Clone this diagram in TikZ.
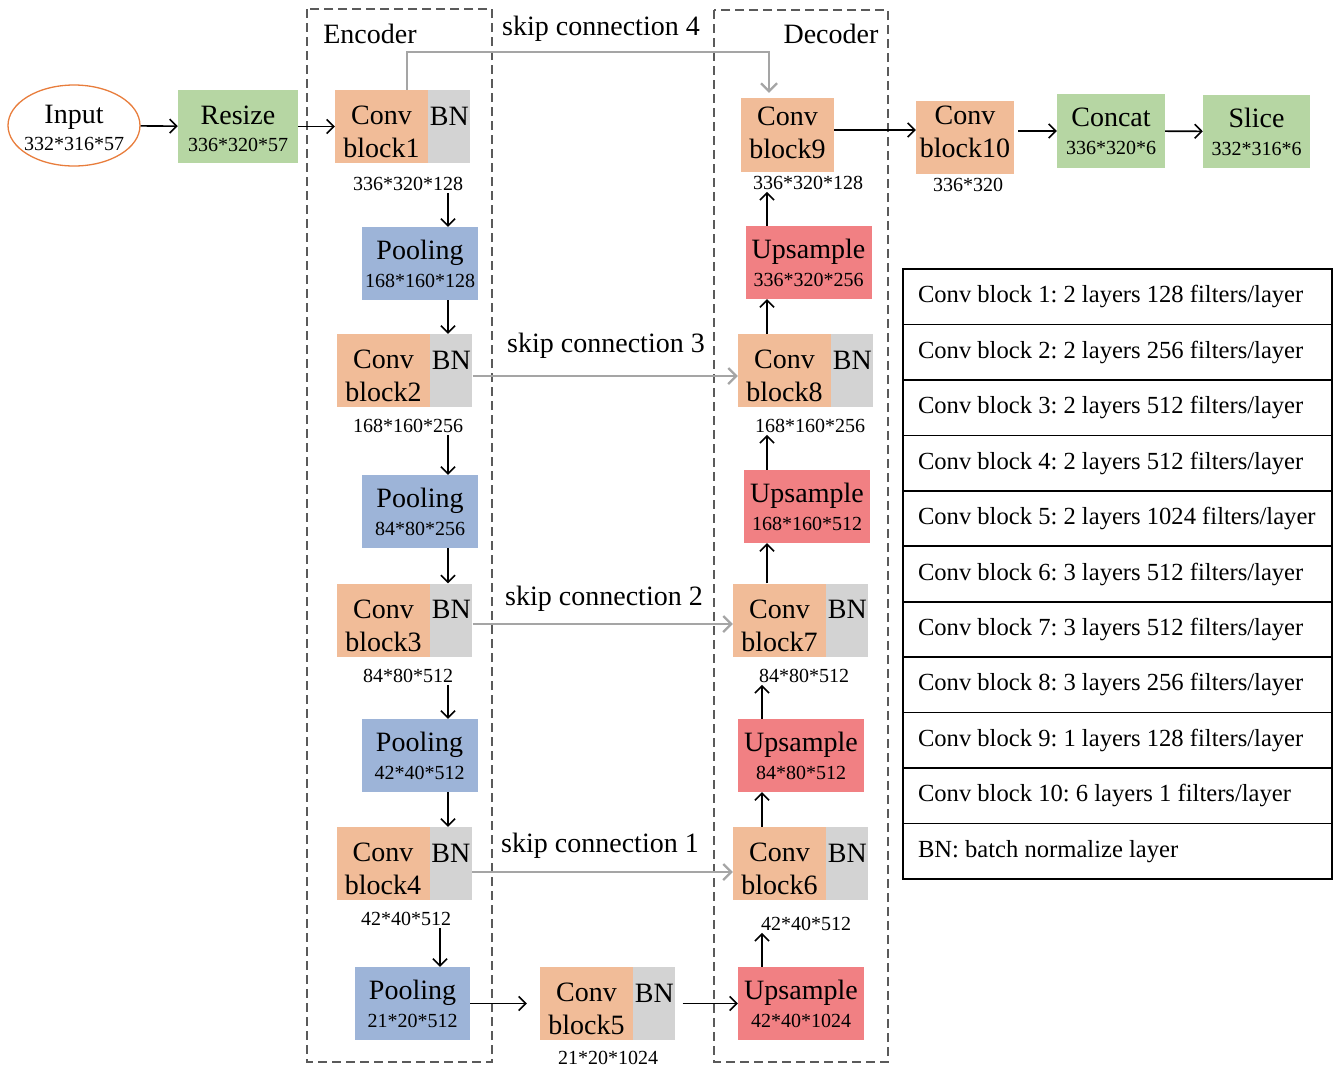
\documentclass[tikz,border=0pt]{standalone}
\usepackage{fontspec}
\setmainfont{Liberation Serif}
\usetikzlibrary{positioning,shapes.geometric,matrix,arrows.meta}
\definecolor{convc}{RGB}{241,188,152}
\definecolor{bnc}{RGB}{211,211,211}
\definecolor{poolc}{RGB}{157,180,216}
\definecolor{upc}{RGB}{241,128,131}
\definecolor{grc}{RGB}{182,214,163}
\definecolor{inc}{RGB}{232,125,60}
\definecolor{skipc}{RGB}{165,165,165}
\definecolor{framec}{RGB}{90,90,90}
\newcommand\sm{\fontsize{20}{24}\selectfont}
\newcommand\tp{\rule{0pt}{30pt}}

\begin{document}
\begin{tikzpicture}[x=1pt,y=-1pt,font=\fontsize{28}{33}\selectfont,
box/.style={inner sep=0pt, align=center, minimum height=73pt},
conv/.style={box, fill=convc, minimum width=93pt},
bn/.style={box, fill=bnc, minimum width=42pt},
pool/.style={box, fill=poolc, minimum width=116pt},
upsm/.style={box, fill=upc, minimum width=126pt},
reshape/.style={box, fill=grc},
dimtext/.style={font=\sm, inner sep=2pt},
flow/.style={-{Straight Barb[length=7pt,width=14pt]}, line width=1.6pt},
skipline/.style={-{Straight Barb[length=8pt,width=16pt]}, line width=2.2pt, skipc},
stage/.style={dash pattern=on 9pt off 5pt, line width=1.4pt, framec},
filters/.style={matrix of nodes, row sep=-1.6pt,
  nodes={draw, line width=1.6pt, minimum height=55.45pt, text width=399pt, inner xsep=15pt,
    inner ysep=0pt, align=flush left, anchor=center, font=\fontsize{24.6}{28}\selectfont\frenchspacing}}]
\useasboundingbox (0,0) rectangle (1336,1069);

% encoder / decoder frames
\draw[stage] (307,9) rectangle (492,1062);
\draw[stage] (714,10) rectangle (888,1062);
\node (enc) at (370,34) {Encoder};
\node (dec) at (831,34) {Decoder};

% input side
\node[ellipse, draw=inc, line width=1.3pt, minimum width=132pt, minimum height=81pt, inner xsep=-10pt, inner ysep=0pt, align=center] (in) at (74,125.5) {\rule{0pt}{24pt}Input\\[-6pt]\sm 332*316*57};
\node[reshape, minimum width=120pt] (rs) at (238,126.5) {\rule{0pt}{24pt}Resize\\[-6pt]\sm 336*320*57};

% encoder
\node[conv] (c1) at (381.5,126.5) {\tp Conv\\block1};
\node[bn, right=0pt of c1] (b1) {\tp BN\\\mbox{}};
\node[dimtext] (l1) at (408,184) {336*320*128};
\node[pool] (p1) at (420,263.5) {Pooling\\[-5pt]\sm 168*160*128};
\node[conv] (c2) at (383.5,370.5) {\tp Conv\\block2};
\node[bn, right=0pt of c2] (b2) {\tp BN\\\mbox{}};
\node[dimtext] (l2) at (408,426) {168*160*256};
\node[pool] (p2) at (420,511.5) {Pooling\\[-5pt]\sm 84*80*256};
\node[conv] (c3) at (383.5,620) {\tp Conv\\block3};
\node[bn, right=0pt of c3] (b3) {\tp BN\\\mbox{}};
\node[dimtext] (l3) at (408,676) {84*80*512};
\node[pool] (p3) at (419.5,755.5) {Pooling\\[-5pt]\sm 42*40*512};
\node[conv] (c4) at (383,863.5) {\tp Conv\\block4};
\node[bn, right=0pt of c4] (b4) {\tp BN\\\mbox{}};
\node[dimtext] (l4) at (406,919) {42*40*512};
\node[pool, minimum width=115pt] (p4) at (412.5,1003.5) {Pooling\\[-5pt]\sm 21*20*512};

% bottom
\node[conv] (c5) at (586.5,1003.5) {\tp Conv\\block5};
\node[bn, right=0pt of c5] (b5) {\tp BN\\\mbox{}};
\node[dimtext] (l5) at (608,1058) {21*20*1024};

% decoder
\node[upsm] (u4) at (801,1003.5) {Upsample\\[-5pt]\sm 42*40*1024};
\node[dimtext] (l6) at (806,924) {42*40*512};
\node[conv] (c6) at (779.5,863.5) {\tp Conv\\block6};
\node[bn, right=0pt of c6] (b6) {\tp BN\\\mbox{}};
\node[upsm] (u3) at (801,755.5) {Upsample\\[-5pt]\sm 84*80*512};
\node[dimtext] (l7) at (804,676) {84*80*512};
\node[conv] (c7) at (779.5,620) {\tp Conv\\block7};
\node[bn, right=0pt of c7] (b7) {\tp BN\\\mbox{}};
\node[upsm] (u2) at (807,506.5) {Upsample\\[-5pt]\sm 168*160*512};
\node[dimtext] (l8) at (810,426) {168*160*256};
\node[conv] (c8) at (784.5,370.5) {\tp Conv\\block8};
\node[bn, right=0pt of c8] (b8) {\tp BN\\\mbox{}};
\node[upsm] (u1) at (808.5,262.5) {Upsample\\[-5pt]\sm 336*320*256};
\node[dimtext] (l9) at (808,183) {336*320*128};
\node[box, fill=convc, minimum width=93pt, minimum height=74pt] (c9) at (787.5,135) {Conv\\block9\rule[-5pt]{0pt}{0pt}};

% output side
\node[box, fill=convc, minimum width=98pt] (c10) at (965,137.5) {Conv\\block10\rule[-12pt]{0pt}{0pt}};
\node[dimtext] (l10) at (968,185) {336*320};
\node[reshape, minimum width=108pt, minimum height=74pt] (cc) at (1111,131) {Concat\\[-5pt]\sm 336*320*6};
\node[reshape, minimum width=107pt] (sl) at (1256.5,131.5) {Slice\\[-5pt]\sm 332*316*6};

% filter table
\matrix[filters] (tab) at (1117.5,574) {
Conv block 1: 2 layers 128 filters/layer\\
Conv block 2: 2 layers 256 filters/layer\\
Conv block 3: 2 layers 512 filters/layer\\
Conv block 4: 2 layers 512 filters/layer\\
Conv block 5: 2 layers 1024 filters/layer\\
Conv block 6: 3 layers 512 filters/layer\\
Conv block 7: 3 layers 512 filters/layer\\
Conv block 8: 3 layers 256 filters/layer\\
Conv block 9: 1 layers 128 filters/layer\\
Conv block 10: 6 layers 1 filters/layer\\
BN: batch normalize layer\\
};

% arrows
\coordinate (ex) at (448,0);
\coordinate (ex4) at (440,0);
\coordinate (dlo) at (762,0);
\coordinate (dhi) at (767,0);
\draw[flow] (in) -- (rs);
\draw[flow] (rs) -- (c1);
\draw[flow] (l1.south -| ex) -- (p1.north -| ex);
\draw[flow] (p1.south -| ex) -- (b2.north -| ex);
\draw[flow] (l2.south -| ex) -- (p2.north -| ex);
\draw[flow] (p2.south -| ex) -- (b3.north -| ex);
\draw[flow] (l3.south -| ex) -- (p3.north -| ex);
\draw[flow] (p3.south -| ex) -- (b4.north -| ex);
\draw[flow] (l4.south -| ex4) -- (p4.north -| ex4);
\draw[flow, shorten >=13pt] (p4) -- (c5);
\draw[flow, shorten <=7pt] (b5) -- (u4);
\draw[flow] (u4.north -| dlo) -- (l6.south -| dlo);
\draw[flow] (c6.north -| dlo) -- (u3.south -| dlo);
\draw[flow] (u3.north -| dlo) -- (l7.south -| dlo);
\draw[flow] (c7.north -| dhi) -- (u2.south -| dhi);
\draw[flow] (u2.north -| dhi) -- (l8.south -| dhi);
\draw[flow] (c8.north -| dhi) -- (u1.south -| dhi);
\draw[flow] (u1.north -| dhi) -- (l9.south -| dhi);
\draw[flow] ([yshift=5pt]c9.east) -- ([yshift=5pt]c9.east -| c10.west);
\draw[flow, shorten <=4pt] (c10.east |- cc.west) -- (cc.west);
\draw[flow] (cc) -- (sl);

% skip connections
\coordinate (s4) at (769,52);
\draw[skipline, shorten >=5pt] ([xshift=25.5pt]c1.north) |- (s4) -- ([xshift=-18.5pt]c9.north);
\draw[skipline] ([yshift=-5.5pt]b2.east) -- ([yshift=-5.5pt]c8.west);
\draw[skipline] ([yshift=-4pt]b3.east) -- ([yshift=-4pt]c7.west);
\draw[skipline] ([yshift=-8.5pt]b4.east) -- ([yshift=-8.5pt]c6.west);
\node (sk4) at (601,29) {skip connection 4};
\node (sk3) at (606,346) {skip connection 3};
\node (sk2) at (604,599) {skip connection 2};
\node (sk1) at (600,846) {skip connection 1};
\end{tikzpicture}
\end{document}
